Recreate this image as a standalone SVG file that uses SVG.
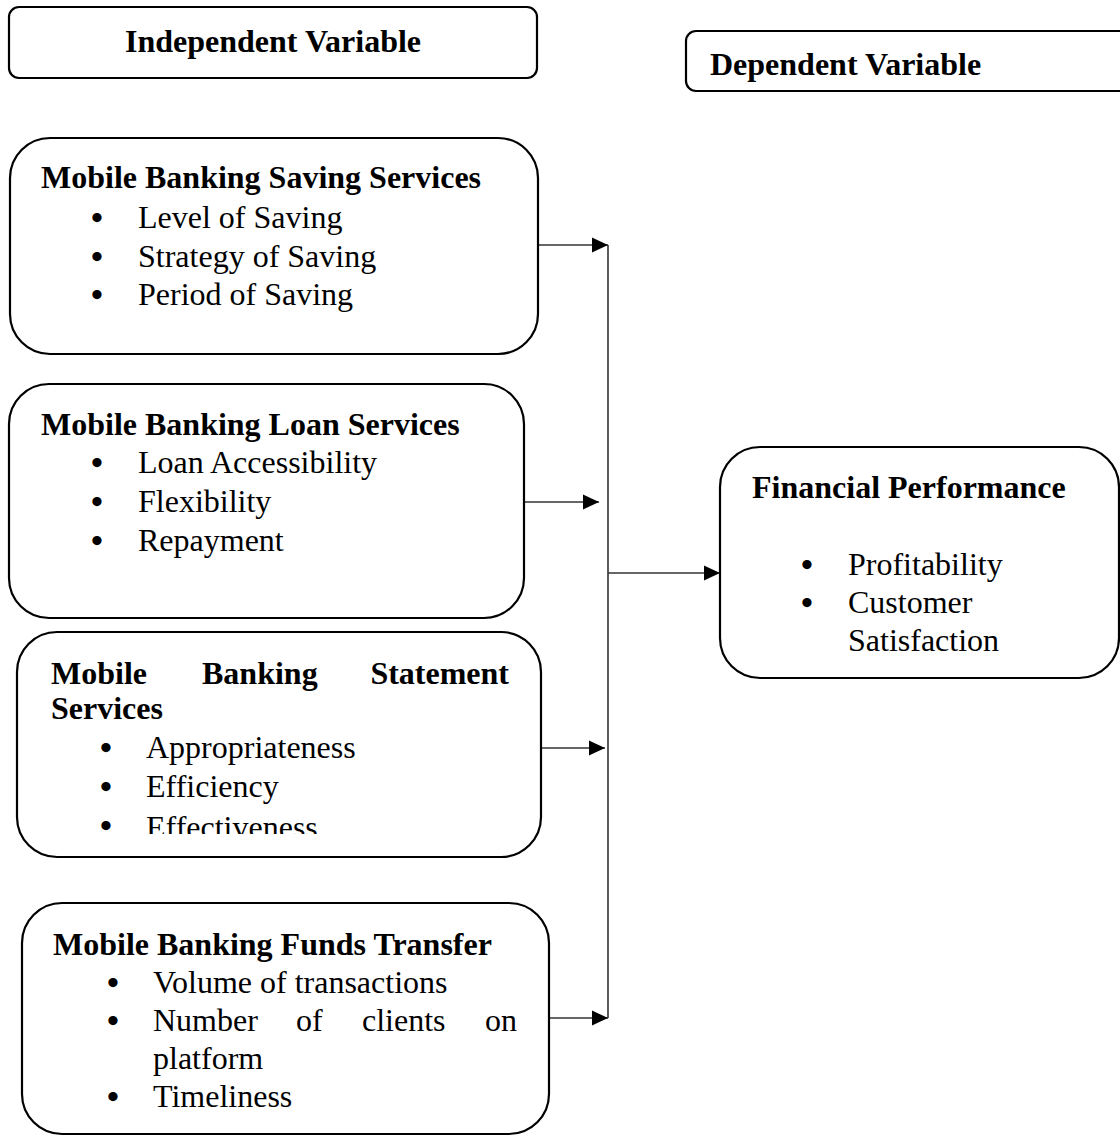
<svg xmlns="http://www.w3.org/2000/svg" width="1120" height="1136" viewBox="0 0 1120 1136">
<defs>
<style>
.box{fill:#fff;stroke:#000;stroke-width:2.2}
.t{font-family:"Liberation Serif","Times New Roman",serif;font-size:32px;fill:#000}
.b{font-weight:bold}
.bu{font-family:"Liberation Serif","Times New Roman",serif;font-size:34px;font-weight:bold;fill:#000}
.c{stroke:#333;stroke-width:1.6;fill:none}
</style>
<marker id="ah" markerUnits="userSpaceOnUse" markerWidth="16" markerHeight="16" viewBox="0 0 16 16" refX="16" refY="8" orient="auto">
<path d="M0,0.5 L16,8 L0,15.5 Z" fill="#000"/>
</marker>
<clipPath id="clipStmt"><rect x="0" y="600" width="600" height="234"/></clipPath>
</defs>
<rect width="1120" height="1136" fill="#fff"/>

<g id="connectors">
<line class="c" x1="608" y1="245" x2="608" y2="1018"/>
<line class="c" x1="538" y1="245" x2="608" y2="245" marker-end="url(#ah)"/>
<line class="c" x1="524" y1="502" x2="599" y2="502" marker-end="url(#ah)"/>
<line class="c" x1="542" y1="748" x2="605" y2="748" marker-end="url(#ah)"/>
<line class="c" x1="550" y1="1018" x2="608" y2="1018" marker-end="url(#ah)"/>
<line class="c" x1="608" y1="573" x2="720" y2="573" marker-end="url(#ah)"/>
</g>

<g id="independent-variable">
<rect class="box" x="9" y="7" width="528" height="71" rx="10"/>
<text class="t b" x="273" y="52" text-anchor="middle">Independent Variable</text>
</g>

<g id="dependent-variable">
<rect class="box" x="686" y="31" width="460" height="60" rx="10"/>
<text class="t b" x="710" y="75">Dependent Variable</text>
</g>

<g id="saving-services">
<rect class="box" x="10" y="138" width="528" height="216" rx="40"/>
<text class="t b" x="41" y="188">Mobile Banking Saving Services</text>
<text class="bu" x="91" y="229">•</text><text class="t" x="138" y="228">Level of Saving</text>
<text class="bu" x="91" y="268">•</text><text class="t" x="138" y="267">Strategy of Saving</text>
<text class="bu" x="91" y="306">•</text><text class="t" x="138" y="305">Period of Saving</text>
</g>

<g id="loan-services">
<rect class="box" x="9" y="384" width="515" height="234" rx="40"/>
<text class="t b" x="41" y="435">Mobile Banking Loan Services</text>
<text class="bu" x="91" y="474">•</text><text class="t" x="138" y="473">Loan Accessibility</text>
<text class="bu" x="91" y="513">•</text><text class="t" x="138" y="512">Flexibility</text>
<text class="bu" x="91" y="552">•</text><text class="t" x="138" y="551">Repayment</text>
</g>

<g id="statement-services">
<rect class="box" x="17" y="632" width="524" height="225" rx="40"/>
<text class="t b" x="51" y="684">Mobile</text>
<text class="t b" x="202" y="684">Banking</text>
<text class="t b" x="509" y="684" text-anchor="end">Statement</text>
<text class="t b" x="51" y="719">Services</text>
<text class="bu" x="100" y="759">•</text><text class="t" x="146" y="758">Appropriateness</text>
<text class="bu" x="100" y="798">•</text><text class="t" x="146" y="797">Efficiency</text>
<text class="bu" x="100" y="837">•</text>
<text class="t" x="146" y="838" clip-path="url(#clipStmt)">Effectiveness</text>
</g>

<g id="funds-transfer">
<rect class="box" x="22" y="903" width="527" height="231" rx="40"/>
<text class="t b" x="53" y="955">Mobile Banking Funds Transfer</text>
<text class="bu" x="107" y="994">•</text><text class="t" x="153" y="993">Volume of transactions</text>
<text class="bu" x="107" y="1032">•</text>
<text class="t" x="153" y="1031">Number</text>
<text class="t" x="296" y="1031">of</text>
<text class="t" x="362" y="1031">clients</text>
<text class="t" x="517" y="1031" text-anchor="end">on</text>
<text class="t" x="153" y="1069">platform</text>
<text class="bu" x="107" y="1108">•</text><text class="t" x="153" y="1107">Timeliness</text>
</g>

<g id="financial-performance">
<rect class="box" x="720" y="447" width="399" height="231" rx="40"/>
<text class="t b" x="752" y="498">Financial Performance</text>
<text class="bu" x="801" y="576">•</text><text class="t" x="848" y="575">Profitability</text>
<text class="bu" x="801" y="614">•</text><text class="t" x="848" y="613">Customer</text>
<text class="t" x="848" y="651">Satisfaction</text>
</g>
</svg>
